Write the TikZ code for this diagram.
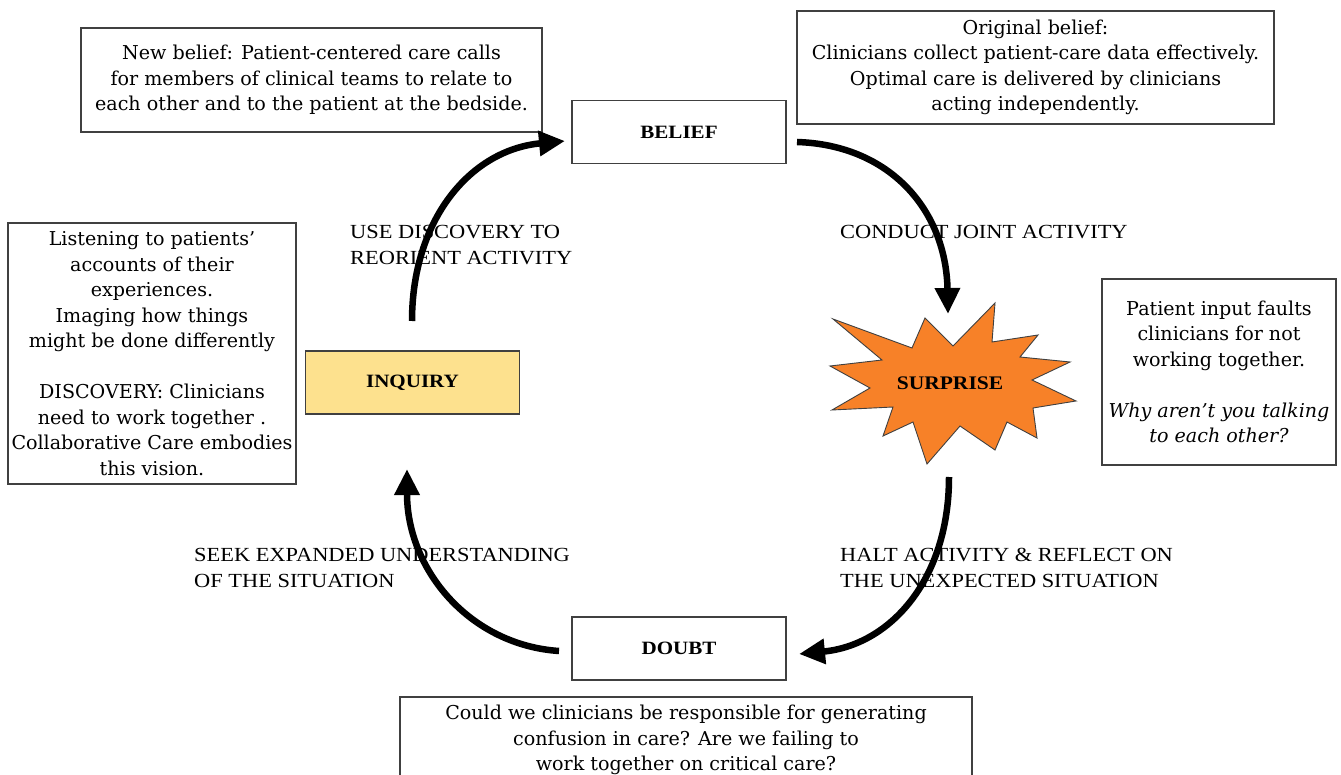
\documentclass[tikz,border=0pt]{standalone}
\usepackage{fontspec}
\setmainfont{Liberation Serif}
\newfontfamily\boxfont[Ligatures=TeX]{DejaVu Serif}
\newfontfamily\lblfont[FakeStretch=1.12,Ligatures=TeX]{Liberation Serif}
\usetikzlibrary{arrows.meta}
\definecolor{burst}{HTML}{F78128}
\definecolor{inq}{HTML}{FDE18E}
\definecolor{boxline}{HTML}{404040}
\tikzset{
  txtbox/.style={draw=boxline, line width=1.2pt, inner sep=0pt, align=center,
    font=\boxfont\fontsize{19.1}{25.5}\selectfont},
  keybox/.style={draw=boxline, line width=1.2pt, inner sep=0pt,
    minimum width=214pt, minimum height=63pt, font=\lblfont\fontsize{18.8}{22}\selectfont\bfseries},
  lbl/.style={anchor=west, align=left, inner sep=0pt, font=\lblfont\fontsize{20}{25.5}\selectfont},
  bigarrow/.style={line width=6.5pt, -{Triangle[length=26pt,width=24pt]}}
}
\begin{document}
\begin{tikzpicture}[x=1pt,y=-1pt]
\clip (0,0) rectangle (1341,775);
\fill[white] (0,0) rectangle (1341,775);

% text boxes
\node[txtbox, minimum width=461pt, minimum height=104pt] (newb) at (311.5,80)
  {New belief: Patient-centered care calls\\for members of clinical teams to relate to\\each other and to the patient at the bedside.};
\node[txtbox, minimum width=477pt, minimum height=113pt] (orig) at (1035.5,67.5)
  {Original belief:\\Clinicians collect patient-care data effectively.\\Optimal care is delivered by clinicians\\acting independently.};
\node[txtbox, minimum width=288pt, minimum height=261pt] (left) at (152,353.5)
  {Listening to patients'\\accounts of their\\experiences.\\Imaging how things\\might be done differently\\[25.5pt]DISCOVERY: Clinicians\\need to work together .\\Collaborative Care embodies\\this vision.};
\node[txtbox, minimum width=234pt, minimum height=186pt] (right) at (1219,372)
  {Patient input faults\\clinicians for not\\working together.\\[25.5pt]\textit{Why aren't you talking}\\\textit{to each other?}};
\node[txtbox, minimum width=572pt, minimum height=86pt] (bottom) at (686,740)
  {Could we clinicians be responsible for generating\\confusion in care? Are we failing to\\work together on critical care?};

% key nodes
\node[keybox] (belief) at (679,132) {BELIEF};
\node[keybox, fill=inq, minimum height=63pt] (inquiry) at (412.5,382.5) {INQUIRY};
\node[keybox] (doubt) at (679,648.5) {DOUBT};

% starburst
\draw[fill=burst, draw=black!75, line width=0.9pt]
  (833,319) -- (912,348) -- (925,318) -- (953,346) -- (995,303) -- (992,342)
  -- (1038,335) -- (1020,357) -- (1070,362) -- (1032,380) -- (1076,401)
  -- (1033,408) -- (1037,438) -- (1007,422) -- (995,450) -- (960,426)
  -- (927,464) -- (913,422) -- (883,436) -- (893,407) -- (832,410)
  -- (870,388) -- (830,366) -- (882,360) -- cycle;
\node[font=\lblfont\fontsize{19.2}{22}\selectfont\bfseries, inner sep=0pt] (surprise) at (950,383) {SURPRISE};

% labels
\node[lbl] (l1) at (350,245) {USE DISCOVERY TO\\REORIENT ACTIVITY};
\node[lbl] (l2) at (840,232) {CONDUCT JOINT ACTIVITY};
\node[lbl] (l3) at (194,568) {SEEK EXPANDED UNDERSTANDING\\OF THE SITUATION};
\node[lbl] (l4) at (840,568) {HALT ACTIVITY \& REFLECT ON\\THE UNEXPECTED SITUATION};

% arrow end points
\coordinate (a1s) at (412,321);
\coordinate (a1e) at (565,141);
\coordinate (a2s) at (797,142);
\coordinate (a2e) at (948,314);
\coordinate (a3s) at (949,477);
\coordinate (a3e) at (799,654);
\coordinate (a4s) at (559,651);
\coordinate (a4e) at (407,469);

\draw[bigarrow] (a1s) .. controls (412,220) and (470,150) .. (a1e);
\draw[bigarrow] (a2s) .. controls (890,145) and (946,210) .. (a2e);
\draw[bigarrow] (a3s) .. controls (949,580) and (890,645) .. (a3e);
\draw[bigarrow] (a4s) .. controls (470,645) and (407,570) .. (a4e);
\end{tikzpicture}
\end{document}
